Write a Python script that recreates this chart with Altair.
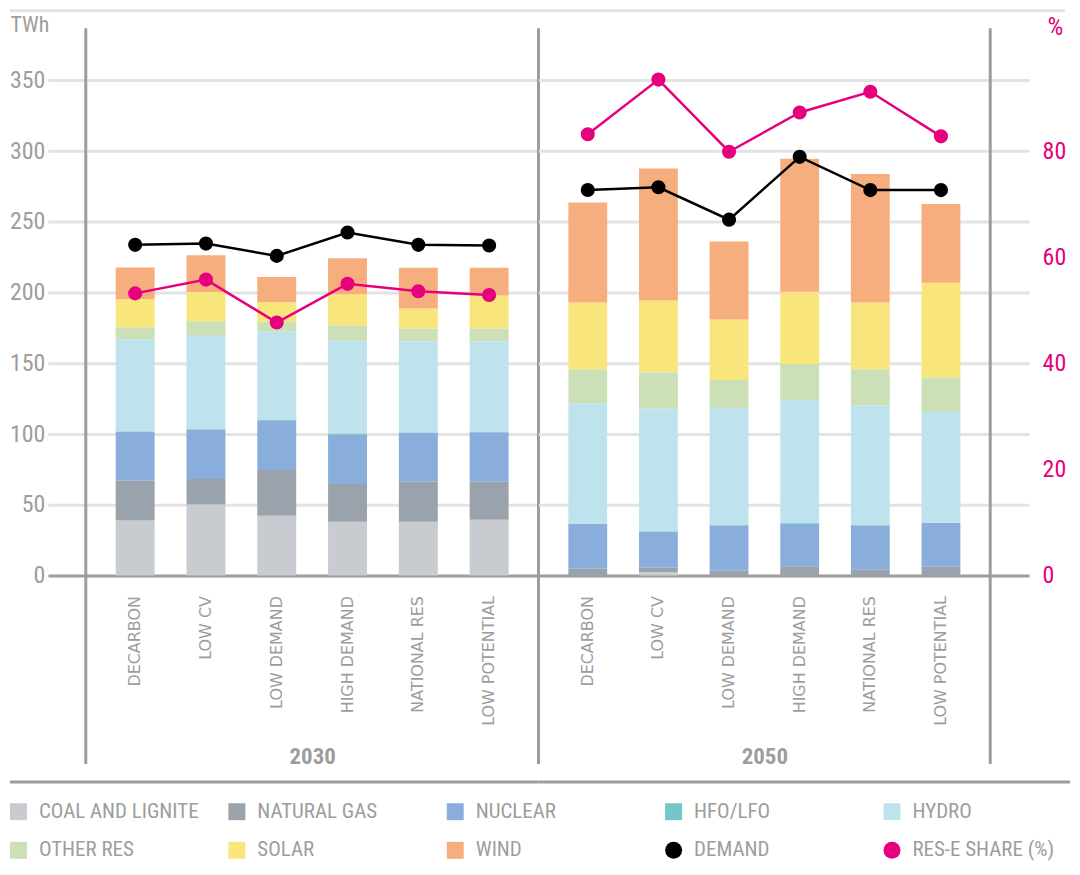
import altair as alt
import pandas as pd

scenarios = ["DECARBON", "LOW CV", "LOW DEMAND", "HIGH DEMAND", "NATIONAL RES", "LOW POTENTIAL"]
years = ["2030", "2050"]
sources = ["COAL AND LIGNITE", "NATURAL GAS", "NUCLEAR", "HFO/LFO", "HYDRO", "OTHER RES", "SOLAR", "WIND"]
legend_items = sources + ["DEMAND", "RES-E SHARE (%)"]
colors = ["#c8cbd0", "#9aa3ab", "#8aaedb", "#74c6c8", "#bee3ec", "#cbe0b6", "#f8e57b", "#f7ae7e", "#000000", "#e6007e"]
shapes = ["square"] * 8 + ["circle", "circle"]

# TWh by source, per scenario (order of `scenarios`)
gen_2030 = {
    "COAL AND LIGNITE": [39.0, 50.2, 42.3, 38.0, 38.0, 39.4],
    "NATURAL GAS": [28.0, 18.1, 32.4, 26.8, 28.4, 27.0],
    "NUCLEAR": [34.7, 34.7, 35.2, 35.2, 34.5, 35.0],
    "HFO/LFO": [0.4, 0.4, 0.4, 0.4, 0.4, 0.4],
    "HYDRO": [65.0, 66.0, 62.5, 66.0, 64.3, 63.8],
    "OTHER RES": [8.5, 10.4, 6.6, 10.6, 9.1, 9.1],
    "SOLAR": [19.7, 20.6, 13.9, 21.8, 14.1, 23.3],
    "WIND": [22.5, 26.0, 17.8, 25.6, 28.9, 19.7],
}
gen_2050 = {
    "COAL AND LIGNITE": [0.0, 2.5, 0.0, 0.0, 0.0, 0.0],
    "NATURAL GAS": [4.9, 3.0, 3.5, 6.6, 4.5, 6.3],
    "NUCLEAR": [31.7, 25.5, 31.9, 30.2, 30.9, 31.0],
    "HFO/LFO": [0.3, 0.3, 0.3, 0.3, 0.3, 0.3],
    "HYDRO": [84.9, 87.0, 82.8, 87.1, 84.7, 78.1],
    "OTHER RES": [24.0, 25.4, 19.8, 25.3, 25.4, 24.4],
    "SOLAR": [47.2, 50.7, 42.7, 51.2, 47.2, 66.9],
    "WIND": [70.7, 93.3, 55.1, 93.9, 90.8, 55.7],
}
demand_2030 = [233.8, 234.7, 226.0, 242.5, 233.8, 233.3]
demand_2050 = [272.6, 274.5, 251.6, 296.0, 272.5, 272.5]
share_2030 = [53.2, 55.8, 47.7, 55.0, 53.6, 52.9]
share_2050 = [83.2, 93.5, 79.9, 87.3, 91.2, 82.8]

gen = {"2030": gen_2030, "2050": gen_2050}
dem = {"2030": demand_2030, "2050": demand_2050}
shr = {"2030": share_2030, "2050": share_2050}

bar_rows, dem_rows, shr_rows = [], [], []
for y in years:
    for i, s in enumerate(sources):
        for j, sc in enumerate(scenarios):
            bar_rows.append({"year": y, "scenario": sc, "key": s, "idx": i, "value": gen[y][s][j]})
    for j, sc in enumerate(scenarios):
        dem_rows.append({"year": y, "scenario": sc, "key": "DEMAND", "value": dem[y][j]})
        shr_rows.append({"year": y, "scenario": sc, "key": "RES-E SHARE (%)", "share": shr[y][j]})
bar_df = pd.DataFrame(bar_rows)
dem_df = pd.DataFrame(dem_rows)
shr_df = pd.DataFrame(shr_rows)
one = pd.DataFrame({"k": [1]})

GRAY = "#9d9d9d"
LIGHT = "#e3e3e3"
MAGENTA = "#e6007e"
COND = "Roboto Condensed"
H = 532

color_scale = alt.Scale(domain=legend_items, range=colors)
shape_scale = alt.Scale(domain=legend_items, range=shapes)
legend = alt.Legend(
    title=None, orient="none", legendX=-78, legendY=758, columns=5, direction="horizontal",
    symbolSize=289, symbolStrokeWidth=0, labelFont=COND, labelFontSize=21, labelColor=GRAY,
    labelOffset=10, gridAlign="all", columnPadding=27, rowPadding=17, labelLimit=400,
)
grid_color = {"condition": {"test": "datum.value === 0", "value": GRAY}, "value": LIGHT}
no_view = alt.ViewBackground(stroke=None, strokeWidth=0)


def panel(year, first):
    W = 454 if first else 453
    xaxis = alt.Axis(
        title=year, labelAngle=-90, labelPadding=20, ticks=False, domain=False,
        labelFont="DejaVu Sans", labelFontSize=16, labelColor=GRAY,
        titleFont=COND, titleFontSize=23, titleFontWeight="bold", titleColor=GRAY,
        titleY=181, titleBaseline="middle",
    )
    X = alt.X("scenario:N", sort=scenarios, axis=xaxis,
              scale=alt.Scale(paddingInner=0.45, paddingOuter=0.4225))
    if first:
        yaxis = alt.Axis(
            orient="left", values=list(range(0, 351, 50)), grid=True, gridColor=grid_color,
            gridWidth=3, tickSize=38, tickWidth=3, tickColor=grid_color, domain=False,
            labelFont=COND, labelFontSize=24, labelColor=GRAY, labelPadding=3,
            title="TWh", titleAngle=0, titleX=-76, titleY=-21, titleAlign="left",
            titleBaseline="middle", titleFont=COND, titleFontSize=22, titleFontWeight="normal",
            titleColor=GRAY,
        )
        paxis = None
    else:
        yaxis = alt.Axis(
            orient="right", values=list(range(0, 351, 50)), grid=True, gridColor=grid_color,
            gridWidth=3, tickSize=39, tickWidth=3, tickColor=grid_color, domain=False,
            labels=False, title=None,
        )
        paxis = alt.Axis(
            orient="right", values=[0, 20, 40, 60, 80], grid=False, ticks=False, domain=False,
            labelPadding=52, labelFont=COND, labelFontSize=24, labelColor=MAGENTA,
            title="%", titleAngle=0, titleX=57, titleY=-19, titleAlign="left",
            titleBaseline="middle", titleFont=COND, titleFontSize=25, titleFontWeight="normal",
            titleColor=MAGENTA,
        )
    Y = alt.Y("value:Q", stack="zero", scale=alt.Scale(domain=[0, 375], nice=False, zero=True), axis=yaxis)
    Yd = alt.Y("value:Q", scale=alt.Scale(domain=[0, 375], nice=False, zero=True), axis=yaxis)
    P = alt.Y("share:Q", scale=alt.Scale(domain=[0, 100], nice=False), axis=paxis)

    bars = alt.Chart(bar_df).transform_filter(alt.datum.year == year).mark_bar().encode(
        x=X, y=Y,
        color=alt.Color("key:N", scale=color_scale, legend=legend),
        order=alt.Order("idx:Q", sort="ascending"),
    )
    dbase = alt.Chart(dem_df).transform_filter(alt.datum.year == year)
    dline = dbase.mark_line(color="black", strokeWidth=2.5).encode(x=X, y=Yd)
    dpts = dbase.mark_point(filled=True, opacity=1, size=200).encode(
        x=X, y=Yd,
        color=alt.Color("key:N", scale=color_scale, legend=legend),
        shape=alt.Shape("key:N", scale=shape_scale, legend=legend),
    )
    # decorative frame lines
    rules = []
    vx = [0, W] if first else [W]
    for xv in vx:
        rules.append(alt.Chart(one).mark_rule(color=GRAY, strokeWidth=3).encode(
            x=alt.value(xv), y=alt.value(-17), y2=alt.value(H + 189)))
    x0 = -76 if first else 0
    x1t = W if first else 528
    x1b = W if first else 533
    rules.append(alt.Chart(one).mark_rule(color=LIGHT, strokeWidth=3).encode(
        x=alt.value(x0), x2=alt.value(x1t), y=alt.value(-34.5)))
    rules.append(alt.Chart(one).mark_rule(color=GRAY, strokeWidth=3).encode(
        x=alt.value(x0), x2=alt.value(x1b), y=alt.value(739)))

    twh = alt.layer(bars, dline, dpts, *rules)
    sbase = alt.Chart(shr_df).transform_filter(alt.datum.year == year)
    sline = sbase.mark_line(color=MAGENTA, strokeWidth=2.5).encode(x=X, y=P)
    spts = sbase.mark_point(filled=True, opacity=1, size=200).encode(
        x=X, y=P,
        color=alt.Color("key:N", scale=color_scale, legend=legend),
        shape=alt.Shape("key:N", scale=shape_scale, legend=legend),
    )
    pct = alt.layer(sline, spts)
    return alt.layer(twh, pct).resolve_scale(y="independent").properties(
        width=W, height=H, view=no_view)


chart = alt.hconcat(panel("2030", True), panel("2050", False), spacing=0, bounds="flush").properties(
    padding={"left": 0, "top": 0, "right": 0, "bottom": 0}
).configure_view(stroke=None, strokeWidth=0).configure(font=COND)

chart.save("out.html", embed_options={"renderer": "svg", "actions": False})
